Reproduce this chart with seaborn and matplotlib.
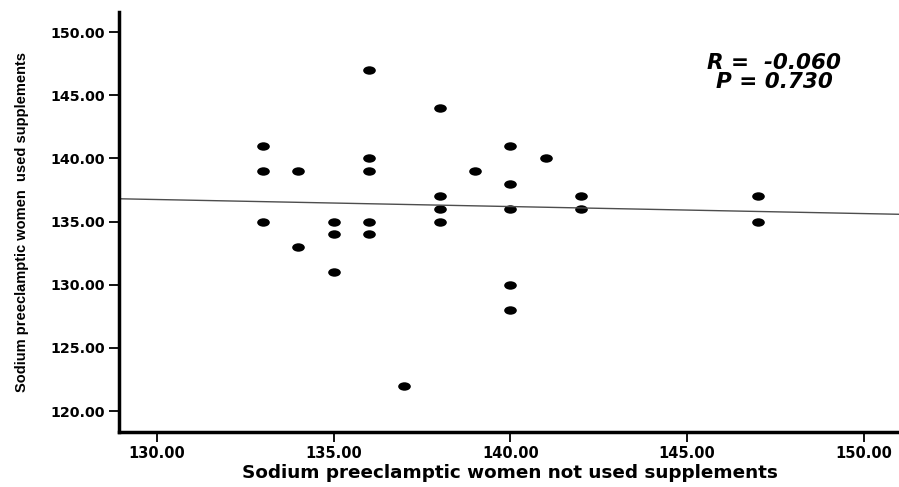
import numpy as np
import pandas as pd
import matplotlib
matplotlib.use("Agg")
import matplotlib.pyplot as plt
from matplotlib.path import Path
from matplotlib.markers import MarkerStyle
import seaborn as sns

# Data
x_not_used = [133, 133, 133, 134, 134, 135, 135, 135, 136, 136, 136, 136, 136,
              137, 138, 138, 138, 138, 139, 140, 140, 140, 140, 140, 141, 142, 142,
              147, 147]
y_used = [141, 139, 135, 139, 133, 135, 134, 131, 147, 140, 139, 135, 134,
          122, 144, 137, 136, 135, 139, 141, 138, 136, 130, 128, 140, 137, 136,
          137, 135]
x_ticks = [130, 135, 140, 145, 150]
y_ticks = [120, 125, 130, 135, 140, 145, 150]
stats_text = ["R =  -0.060", "P = 0.730"]
x_label = "Sodium preeclamptic women not used supplements"
y_label = "Sodium preeclamptic women  used supplements"

df = pd.DataFrame({"x": x_not_used, "y": y_used})

sns.set_style("ticks")
plt.rcParams["font.family"] = ["DejaVu Sans"]
plt.rcParams["text.color"] = "black"
plt.rcParams["axes.labelcolor"] = "black"
plt.rcParams["xtick.color"] = "black"
plt.rcParams["ytick.color"] = "black"

fig = plt.figure(figsize=(8.99, 4.87), dpi=100)
ax = fig.add_axes([119 / 899, 1 - 432 / 487, 780 / 899, 420 / 487])

xlim = (128.92, 151.0)
ylim = (118.34, 151.6)
ax.set_xlim(*xlim)
ax.set_ylim(*ylim)

circ = Path.unit_circle()
ell = Path(circ.vertices * np.array([1.5, 1.0]), circ.codes)

sns.regplot(data=df, x="x", y="y", ax=ax, ci=None, truncate=False,
            color="black", marker=MarkerStyle(ell),
            scatter_kws=dict(s=83, linewidths=0, alpha=1),
            line_kws=dict(color="#4d4d4d", lw=1.0))

ax.set_xlim(*xlim)
ax.set_ylim(*ylim)

ax.set_xticks(x_ticks)
ax.set_yticks(y_ticks)
ax.set_xticklabels([f"{v:.2f}" for v in x_ticks], fontweight="bold", fontsize=10.5)
ax.set_yticklabels([f"{v:.2f}" for v in y_ticks], fontweight="bold", fontsize=10.3)
ax.tick_params(axis="both", length=7, width=1.3, color="black", pad=3,
               labelcolor="black")

for side in ["top", "right"]:
    ax.spines[side].set_visible(False)
for side in ["left", "bottom"]:
    ax.spines[side].set_linewidth(2.5)
    ax.spines[side].set_color("black")

ax.set_xlabel(x_label, fontweight="bold", fontsize=13.2, color="black")
ax.xaxis.set_label_coords(0.501, -0.0976)
ax.xaxis.label.set_va("center")

ax.set_ylabel(y_label, fontweight="bold", fontsize=10.5, color="black",
              family=["Liberation Sans", "DejaVu Sans"])
ax.yaxis.set_label_coords(-0.124, 0.5)
ax.yaxis.label.set_va("center")

ax.text(0.840, 0.879, stats_text[0], transform=ax.transAxes, ha="center",
        va="center", fontsize=15.5, fontweight="bold", fontstyle="italic",
        color="black")
ax.text(0.840, 0.834, stats_text[1], transform=ax.transAxes, ha="center",
        va="center", fontsize=15.5, fontweight="bold", fontstyle="italic",
        color="black")

fig.savefig("out.png", dpi=100)
